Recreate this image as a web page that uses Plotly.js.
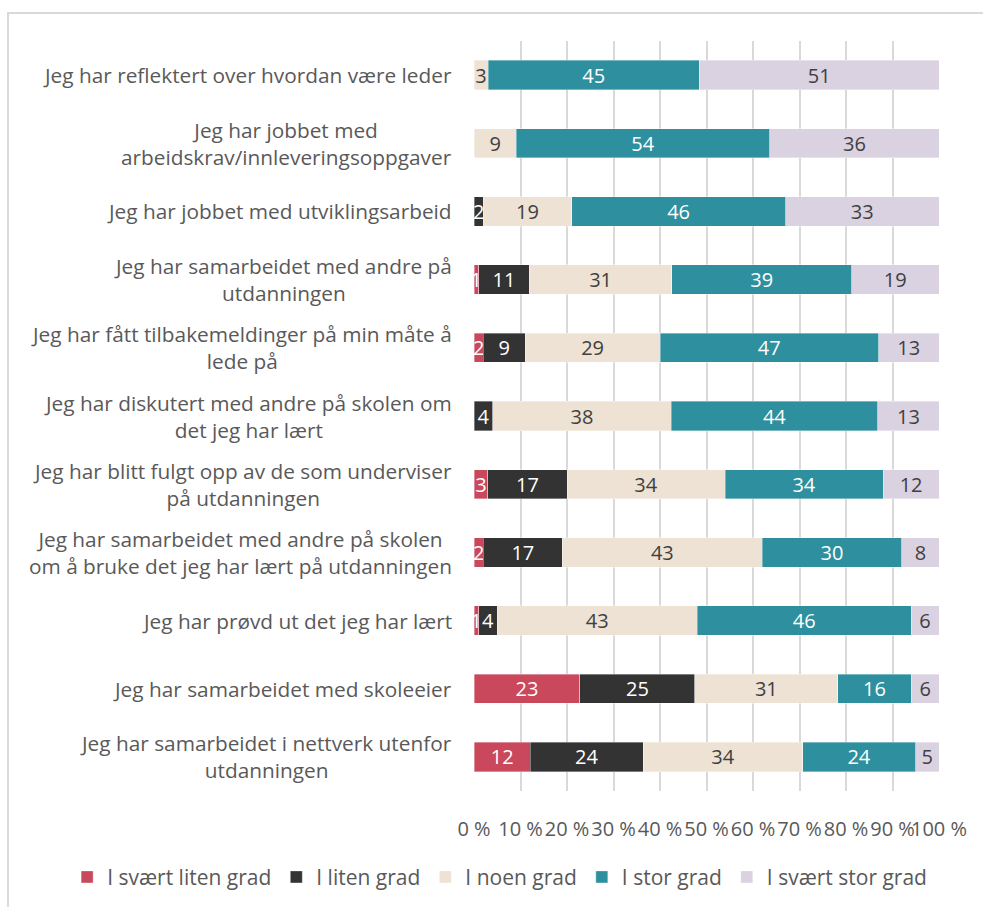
<!DOCTYPE html>
<html>
<head>
<meta charset="utf-8">
<script src="https://cdn.plot.ly/plotly-3.0.1.min.js"></script>
<style>
  html, body { margin: 0; padding: 0; background: #ffffff; }
  #wrap { position: relative; width: 983px; height: 907px; }
  #chart { position: absolute; left: 0; top: 0; width: 983px; height: 907px; }
  #frame { position: absolute; left: 7px; top: 12px; width: 980px; height: 900px;
           border-left: 2px solid #d9d9d9; border-top: 2px solid #d9d9d9; pointer-events: none; }
</style>
</head>
<body>
<div id="wrap">
  <div id="chart"></div>
  <div id="frame"></div>
</div>
<script>
const categories = [
  "Jeg har reflektert over hvordan være leder",
  "Jeg har jobbet med<br>arbeidskrav/innleveringsoppgaver",
  "Jeg har jobbet med utviklingsarbeid",
  "Jeg har samarbeidet med andre på<br>utdanningen",
  "Jeg har fått tilbakemeldinger på min måte å<br>lede på",
  "Jeg har diskutert med andre på skolen om<br>det jeg har lært",
  "Jeg har blitt fulgt opp av de som underviser<br>på utdanningen",
  "Jeg har samarbeidet med andre på skolen<br>om å bruke det jeg har lært på utdanningen",
  "Jeg har prøvd ut det jeg har lært",
  "Jeg har samarbeidet med skoleeier",
  "Jeg har samarbeidet i nettverk utenfor<br>utdanningen"
];
const seriesNames = ["I svært liten grad", "I liten grad", "I noen grad", "I stor grad", "I svært stor grad"];
const svaertLiten = [0, 0, 0, 1, 2, 0, 3, 2, 1, 23, 12];
const liten       = [0, 0, 2, 11, 9, 4, 17, 17, 4, 25, 24];
const noen        = [3, 9, 19, 31, 29, 38, 34, 43, 43, 31, 34];
const stor        = [45, 54, 46, 39, 47, 44, 34, 30, 46, 16, 24];
const svaertStor  = [51, 36, 33, 19, 13, 13, 12, 8, 6, 6, 5];
const xTickVals = [0, 10, 20, 30, 40, 50, 60, 70, 80, 90, 100];
const xTickText = ["0 %", "10 %", "20 %", "30 %", "40 %", "50 %", "60 %", "70 %", "80 %", "90 %", "100 %"];

const seriesValues = [svaertLiten, liten, noen, stor, svaertStor];
const colors = ["#C9485B", "#333333", "#EDE2D3", "#2E8F9E", "#DAD2E0"];
const textColors = ["#ffffff", "#ffffff", "#404040", "#ffffff", "#404040"];
const FONT = "'Open Sans', sans-serif";
const FS = 20;

const traces = seriesValues.map((vals, i) => ({
  type: "bar",
  orientation: "h",
  name: seriesNames[i],
  y: categories,
  x: vals,
  text: vals.map(v => String(v)),
  textposition: "inside",
  insidetextanchor: "middle",
  textangle: 0,
  constraintext: "none",
  cliponaxis: false,
  textfont: { family: FONT, size: FS, color: textColors[i] },
  marker: { color: colors[i], line: { color: "rgba(255,255,255,0.6)", width: 0.6 } },
  hoverinfo: "skip"
}));

const annotations = categories.map(c => ({
  x: 0, xref: "paper", xanchor: "right", xshift: -20,
  y: c, yref: "y", yanchor: "middle",
  text: c, showarrow: false, align: "center",
  font: { family: FONT, size: 20.8, color: "#595959" }
}));

const layout = {
  width: 983, height: 907,
  margin: { l: 474, r: 44, t: 41, b: 116, autoexpand: false },
  paper_bgcolor: "#ffffff",
  plot_bgcolor: "#ffffff",
  barmode: "stack",
  barnorm: "percent",
  bargap: 0.57,
  uniformtext: { mode: "show", minsize: FS },
  showlegend: true,
  legend: {
    orientation: "h",
    xref: "paper", x: -0.875, xanchor: "left",
    yref: "paper", y: -0.115, yanchor: "middle",
    font: { family: FONT, size: 21, color: "#595959" },
    traceorder: "normal",
    itemwidth: 30
  },
  xaxis: {
    range: [0, 100.0001],
    tickvals: xTickVals,
    ticktext: xTickText,
    tickangle: 0,
    ticks: "",
    ticklabelstandoff: 24,
    showgrid: true,
    gridcolor: "#D9D9D9",
    gridwidth: 2,
    zeroline: false,
    showline: false,
    tickfont: { family: FONT, size: FS, color: "#595959" },
    fixedrange: true
  },
  yaxis: {
    autorange: "reversed",
    showticklabels: false,
    ticks: "",
    showgrid: false,
    zeroline: false,
    showline: false,
    fixedrange: true
  },
  annotations: annotations
};

Plotly.newPlot("chart", traces, layout, { displayModeBar: false, staticPlot: true });
</script>
</body>
</html>
